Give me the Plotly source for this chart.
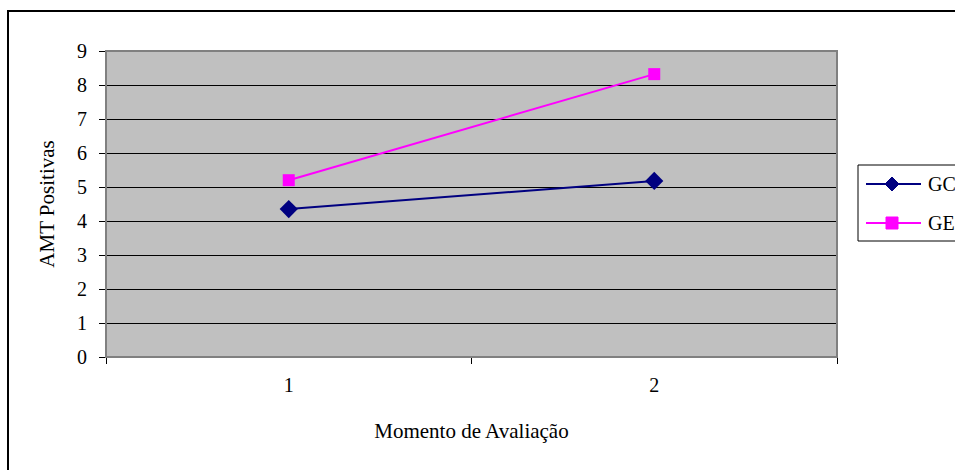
import plotly.graph_objects as go

categories = [1, 2]
gc_values = [4.35, 5.18]
ge_values = [5.2, 8.32]
y_ticks = list(range(0, 10))
series_names = ["GC", "GE"]
series_colors = ["#000080", "#FF00FF"]

FONT = "Liberation Serif, Times New Roman, serif"

# plot area in page pixels
PL, PR, PT, PB = 106, 837, 51, 357
PW, PH = PR - PL, PB - PT
W, H = 955, 470


def px(x):
    return (x - PL) / PW


def py(y):
    return (PB - y) / PH


fig = go.Figure()
fig.add_trace(go.Scatter(
    x=categories, y=gc_values, name=series_names[0], mode="lines+markers",
    line=dict(color=series_colors[0], width=2),
    marker=dict(symbol="diamond", size=14, color=series_colors[0]),
    showlegend=False,
))
fig.add_trace(go.Scatter(
    x=categories, y=ge_values, name=series_names[1], mode="lines+markers",
    line=dict(color=series_colors[1], width=2),
    marker=dict(symbol="square", size=12, color=series_colors[1]),
    showlegend=False,
))

shapes = [
    # plot area border (gray)
    dict(type="rect", xref="paper", yref="paper", x0=0, x1=1, y0=0, y1=1,
         line=dict(color="#808080", width=2), layer="above"),
    # outer chart border
    dict(type="rect", xref="paper", yref="paper",
         x0=px(8), x1=px(965), y0=py(480), y1=py(11),
         line=dict(color="black", width=2)),
    # legend box
    dict(type="rect", xref="paper", yref="paper",
         x0=px(858), x1=px(965), y0=py(241), y1=py(165),
         line=dict(color="black", width=1), fillcolor="white"),
]
annotations = []
legend_rows = [184, 223]
for name, color, row, sym in zip(series_names, series_colors, legend_rows, ["diamond", "square"]):
    shapes.append(dict(type="line", xref="paper", yref="paper",
                       x0=px(866), x1=px(921), y0=py(row), y1=py(row),
                       line=dict(color=color, width=2)))
    cx, cy = 892, row
    if sym == "diamond":
        h = 7
        path = (f"M {px(cx - h)} {py(cy)} L {px(cx)} {py(cy - h)} "
                f"L {px(cx + h)} {py(cy)} L {px(cx)} {py(cy + h)} Z")
    else:
        h = 6
        path = (f"M {px(cx - h)} {py(cy - h)} L {px(cx + h)} {py(cy - h)} "
                f"L {px(cx + h)} {py(cy + h)} L {px(cx - h)} {py(cy + h)} Z")
    shapes.append(dict(type="path", xref="paper", yref="paper", path=path,
                       fillcolor=color, line=dict(color=color, width=1)))
    annotations.append(dict(xref="paper", yref="paper", x=px(926), y=py(row),
                            xanchor="left", yanchor="middle", showarrow=False,
                            text=name, font=dict(family=FONT, size=20, color="black")))

fig.update_layout(
    width=W, height=H,
    margin=dict(l=PL, r=W - PR, t=PT, b=H - PB, pad=0),
    paper_bgcolor="white",
    plot_bgcolor="#C0C0C0",
    font=dict(family=FONT, size=20, color="black"),
    showlegend=False,
    xaxis=dict(
        range=[0.5, 2.5], tickvals=categories, ticktext=[str(c) for c in categories],
        ticks="", showgrid=False, zeroline=False,
        showline=True, linecolor="black", linewidth=1,
        ticklabelstandoff=10,
        minor=dict(tickvals=[0.5, 1.5, 2.5], ticks="outside", ticklen=6,
                   tickcolor="black", showgrid=False),
        title=dict(text="Momento de Avaliação", standoff=28,
                   font=dict(family=FONT, size=21)),
    ),
    yaxis=dict(
        range=[0, 9], tickvals=y_ticks, ticks="outside", ticklen=6,
        tickcolor="black", showgrid=True, gridcolor="black", gridwidth=1,
        zeroline=False, showline=True, linecolor="black", linewidth=1,
        ticklabelstandoff=8,
        title=dict(text="AMT Positivas", standoff=16,
                   font=dict(family=FONT, size=21)),
    ),
    shapes=shapes,
    annotations=annotations,
)

fig.write_html(
    "out.html",
    config={"displayModeBar": False},
    post_script="document.body.style.margin='0';document.body.style.overflow='hidden';",
)
